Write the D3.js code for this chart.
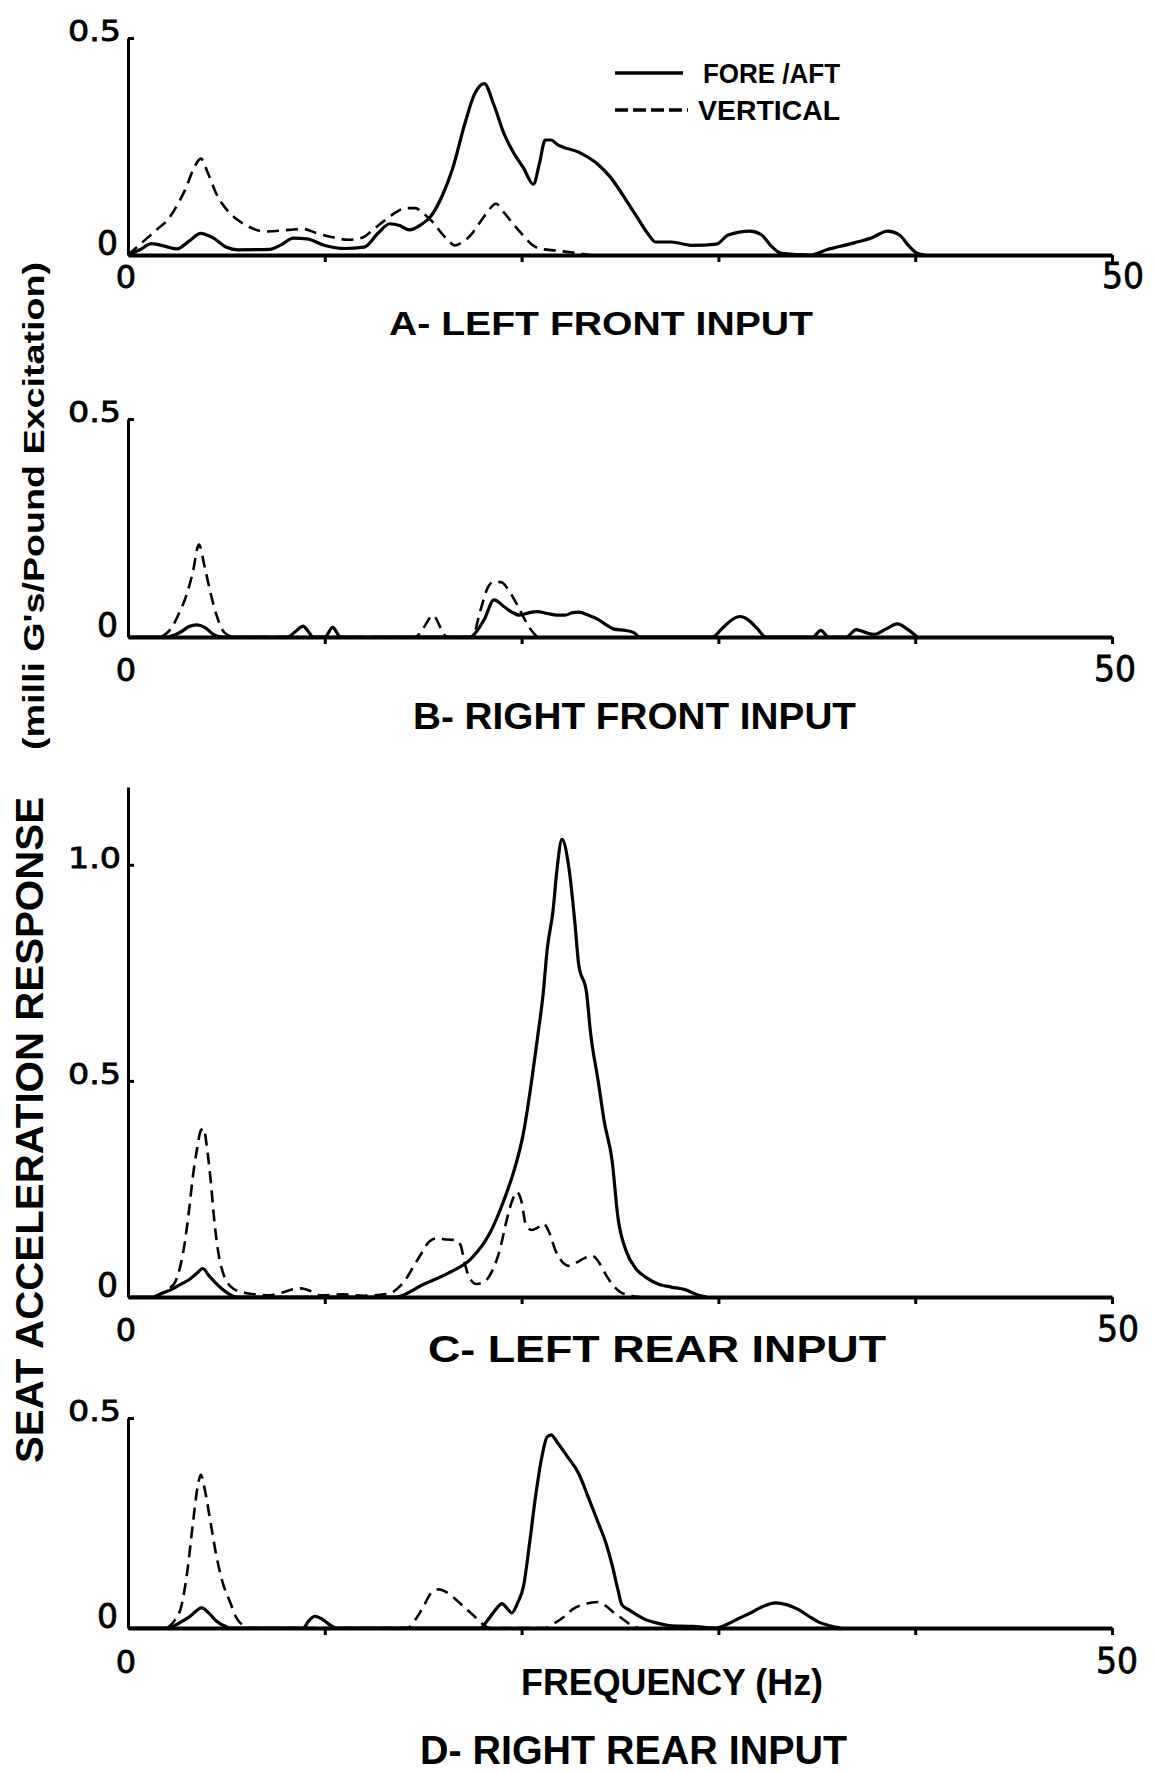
<!DOCTYPE html>
<html>
<head>
<meta charset="utf-8">
<script src="https://cdn.jsdelivr.net/npm/d3@7"></script>
<style>
  body { margin: 0; background: #fff; }
  svg { display: block; }
  text { fill: #000; font-family: "Liberation Sans", "DejaVu Sans Condensed", "Noto Sans", sans-serif; font-weight: bold; }
  .num { font-family: "DejaVu Sans", "Liberation Sans", sans-serif; font-weight: normal; }
</style>
</head>
<body>
<div id="chart"></div>
<script>
// values: [frequency Hz, response]
var aForeAft = [[0,0],[0.6,0.012],[1.2,0.026],[1.9,0.02],[2.5,0.014],[3.1,0.032],[3.7,0.05],[4.3,0.04],[5.0,0.018],[5.6,0.012],[7.2,0.013],[7.8,0.024],[8.4,0.039],[9.1,0.037],[10.0,0.022],[11.0,0.015],[12.0,0.018],[12.7,0.05],[13.3,0.072],[13.8,0.068],[14.3,0.058],[14.9,0.07],[15.4,0.09],[16.0,0.14],[16.5,0.2],[17.1,0.3],[17.6,0.37],[18.1,0.395],[18.6,0.345],[19.1,0.28],[19.6,0.235],[20.1,0.2],[20.6,0.163],[20.9,0.21],[21.2,0.265],[21.5,0.265],[21.8,0.255],[22.9,0.237],[23.9,0.208],[24.5,0.18],[24.9,0.155],[25.4,0.12],[25.9,0.085],[26.4,0.05],[26.8,0.03],[27.6,0.03],[28.7,0.022],[29.9,0.025],[30.5,0.046],[31.6,0.055],[32.2,0.046],[32.7,0.02],[33.2,0.004],[34.7,0],[35.5,0.012],[36.9,0.028],[37.8,0.04],[38.6,0.055],[39.2,0.046],[39.7,0.02],[40.1,0.004],[40.5,0]];
var aVertical = [[0,0],[0.3,0.012],[1.0,0.04],[1.5,0.06],[2.0,0.08],[2.5,0.115],[2.9,0.15],[3.3,0.195],[3.7,0.222],[4.05,0.19],[4.5,0.14],[5.1,0.1],[5.6,0.08],[6.1,0.066],[7.0,0.054],[8.2,0.058],[8.9,0.06],[9.6,0.05],[10.4,0.041],[11.2,0.035],[11.9,0.04],[12.5,0.06],[13.0,0.078],[13.6,0.098],[14.1,0.108],[14.6,0.108],[15.0,0.096],[15.5,0.075],[15.9,0.052],[16.3,0.032],[16.6,0.022],[17.0,0.03],[17.4,0.045],[17.8,0.07],[18.2,0.095],[18.7,0.118],[19.1,0.098],[19.6,0.07],[20.1,0.044],[20.5,0.025],[20.9,0.015],[21.8,0.01],[22.7,0.005],[23.5,0]];

var bForeAft = [[0,0],[2.0,0],[2.7,0.012],[3.1,0.024],[3.5,0.028],[3.9,0.022],[4.4,0.004],[4.8,0],[8.1,0],[8.5,0.012],[8.9,0.025],[9.2,0.01],[9.4,0],[10.0,0],[10.4,0.022],[10.8,0],[17.4,0],[17.7,0.012],[18.1,0.04],[18.6,0.085],[19.1,0.07],[19.5,0.057],[19.9,0.05],[20.4,0.056],[20.8,0.058],[21.3,0.054],[21.8,0.05],[22.2,0.05],[22.6,0.056],[22.9,0.057],[23.4,0.05],[23.9,0.04],[24.3,0.028],[24.7,0.018],[25.3,0.015],[25.7,0.01],[26.0,0],[29.7,0],[30.2,0.02],[30.7,0.04],[31.1,0.047],[31.5,0.04],[32.0,0.018],[32.4,0],[34.8,0],[35.2,0.015],[35.6,0],[36.5,0],[37.0,0.017],[37.5,0.01],[37.9,0.006],[38.5,0.018],[39.1,0.03],[39.6,0.018],[40.1,0]];
var bVertical = [[1.7,0],[2.2,0.02],[2.6,0.055],[3.0,0.1],[3.3,0.15],[3.6,0.212],[3.9,0.16],[4.2,0.1],[4.5,0.05],[4.9,0.01],[5.4,0],[14.6,0],[15.0,0.02],[15.5,0.05],[15.9,0.02],[16.2,0],[17.5,0],[17.9,0.06],[18.3,0.115],[18.6,0.127],[19.0,0.125],[19.3,0.11],[19.7,0.08],[20.1,0.045],[20.5,0.015],[20.8,0]];

var cForeAft = [[0,0],[1.3,0],[1.7,0.008],[2.2,0.017],[2.7,0.03],[3.1,0.04],[3.5,0.055],[3.8,0.066],[4.1,0.05],[4.4,0.035],[4.8,0.018],[5.1,0.008],[5.5,0],[13.6,0],[15.0,0.029],[16.4,0.058],[17.4,0.087],[18.4,0.149],[19.1,0.224],[19.6,0.29],[20.1,0.381],[20.5,0.497],[20.8,0.597],[21.1,0.704],[21.3,0.804],[21.6,0.895],[21.8,0.99],[22.05,1.059],[22.4,0.994],[22.7,0.87],[22.9,0.77],[23.3,0.704],[23.5,0.613],[23.9,0.497],[24.2,0.406],[24.6,0.315],[24.9,0.182],[25.3,0.108],[25.8,0.066],[26.3,0.046],[27.0,0.029],[27.6,0.023],[28.3,0.017],[29.0,0.004],[29.4,0]];
var cVertical = [[1.3,0],[1.7,0.008],[2.1,0.02],[2.4,0.035],[2.7,0.08],[2.9,0.13],[3.1,0.2],[3.3,0.28],[3.5,0.34],[3.7,0.385],[3.85,0.39],[4.0,0.35],[4.2,0.27],[4.4,0.17],[4.6,0.1],[4.8,0.06],[5.1,0.03],[5.4,0.018],[5.9,0.01],[6.5,0.006],[7.2,0.004],[7.8,0.01],[8.4,0.018],[8.8,0.02],[9.2,0.015],[9.8,0.004],[10.9,0.006],[12.0,0.003],[13.3,0.008],[13.7,0.02],[14.1,0.04],[14.5,0.07],[14.9,0.1],[15.3,0.128],[15.7,0.136],[16.2,0.133],[16.6,0.132],[16.9,0.12],[17.1,0.08],[17.3,0.05],[17.7,0.03],[18.1,0.035],[18.5,0.06],[18.9,0.11],[19.2,0.17],[19.5,0.22],[19.75,0.243],[20.0,0.22],[20.2,0.17],[20.5,0.155],[20.8,0.16],[21.1,0.17],[21.4,0.15],[21.7,0.11],[22.0,0.085],[22.4,0.072],[22.8,0.08],[23.2,0.09],[23.6,0.095],[24.0,0.075],[24.3,0.05],[24.6,0.03],[25.0,0.012],[25.5,0.004],[26.0,0]];

var dForeAft = [[0,0],[2.0,0],[2.6,0.012],[3.1,0.026],[3.75,0.048],[4.1,0.036],[4.5,0.016],[5.0,0.003],[5.2,0],[8.9,0],[9.2,0.018],[9.5,0.028],[9.9,0.02],[10.3,0.006],[10.6,0],[17.9,0],[18.3,0.02],[18.7,0.045],[19.0,0.058],[19.3,0.045],[19.5,0.036],[19.8,0.06],[20.1,0.1],[20.4,0.2],[20.7,0.31],[21.0,0.4],[21.3,0.455],[21.5,0.46],[21.8,0.443],[22.3,0.41],[22.9,0.368],[23.4,0.31],[23.9,0.25],[24.3,0.2],[24.6,0.15],[24.9,0.09],[25.1,0.055],[25.5,0.042],[25.9,0.03],[26.3,0.02],[26.7,0.014],[27.5,0.006],[28.7,0.004],[29.9,0],[30.5,0.01],[31.0,0.022],[31.6,0.035],[32.2,0.05],[32.9,0.06],[33.5,0.055],[34.1,0.043],[34.6,0.028],[35.1,0.014],[35.6,0.006],[36.2,0]];
var dVertical = [[2.0,0],[2.4,0.02],[2.7,0.05],[3.0,0.13],[3.3,0.25],[3.55,0.34],[3.7,0.365],[3.9,0.33],[4.2,0.25],[4.5,0.17],[4.8,0.11],[5.2,0.06],[5.5,0.025],[5.9,0.005],[6.1,0],[14.2,0],[14.6,0.02],[15.0,0.05],[15.4,0.083],[15.8,0.092],[16.2,0.085],[16.7,0.066],[17.2,0.045],[17.6,0.028],[18.0,0.01],[18.4,0],[21.2,0],[21.7,0.012],[22.2,0.028],[22.6,0.045],[23.0,0.054],[23.5,0.06],[23.9,0.062],[24.3,0.052],[24.6,0.04],[25.0,0.026],[25.4,0.012],[25.9,0]];

var xTicks = [10, 20, 30, 40, 50];
var xTickLabels = ["0", "50"];
var panelTitles = ["A- LEFT FRONT INPUT", "B- RIGHT FRONT INPUT", "C- LEFT REAR INPUT", "D- RIGHT REAR INPUT"];
var seriesNames = ["FORE /AFT", "VERTICAL"];
var yTitleMain = "SEAT ACCELERATION RESPONSE";
var yTitleUnit = "(milli G's/Pound Excitation)";
var xTitle = "FREQUENCY (Hz)";

var width = 1155, height = 1773;

var svg = d3.select("#chart").append("svg")
    .attr("width", width)
    .attr("height", height);

var x = d3.scaleLinear().domain([0, 50]).range([128, 1112]);

// layout of each panel (pixel positions)
var panels = [
  {fore: aForeAft, vert: aVertical, base: 255, top: 38, vmax: 0.5, yTicks: [0.5], title: panelTitles[0],
   tx: 389, tw: 424, ty: 335, tf: 34, lblDy: 33, x50: 1123},
  {fore: bForeAft, vert: bVertical, base: 637, top: 419, vmax: 0.5, yTicks: [0.5], title: panelTitles[1],
   tx: 413, tw: 443, ty: 729, tf: 37, lblDy: 44, x50: 1115},
  {fore: cForeAft, vert: cVertical, base: 1297, top: 787, vmax: 1.18, yTicks: [0.5, 1.0], title: panelTitles[2],
   tx: 428, tw: 458, ty: 1362, tf: 37, lblDy: 44, x50: 1118},
  {fore: dForeAft, vert: dVertical, base: 1628, top: 1418, vmax: 0.5, yTicks: [0.5], title: panelTitles[3],
   tx: 420, tw: 427, ty: 1764, tf: 40, lblDy: 45, x50: 1117}
];

panels.forEach(function(p) {
  var y = d3.scaleLinear().domain([0, p.vmax]).range([p.base, p.top]);
  var g = svg.append("g");

  var line = d3.line()
      .x(function(d) { return x(d[0]); })
      .y(function(d) { return y(d[1]); })
      .curve(d3.curveMonotoneX);

  g.append("path")
      .datum(p.vert)
      .attr("d", line)
      .attr("fill", "none")
      .attr("stroke", "#000")
      .attr("stroke-width", 2.6)
      .attr("stroke-dasharray", "12,7");

  g.append("path")
      .datum(p.fore)
      .attr("d", line)
      .attr("fill", "none")
      .attr("stroke", "#000")
      .attr("stroke-width", 3.2)
      .attr("stroke-linejoin", "round");

  // x axis
  var xAxis = d3.axisBottom(x).tickValues(xTicks).tickSizeInner(7).tickSizeOuter(0).tickFormat("");
  var xa = g.append("g")
      .attr("transform", "translate(0," + p.base + ")")
      .call(xAxis);
  xa.select(".domain").attr("stroke-width", 4);
  xa.selectAll(".tick line").attr("stroke-width", 3);

  // y axis
  var yAxis = d3.axisRight(y).tickValues(p.yTicks).tickSizeInner(6).tickSizeOuter(0).tickFormat("");
  var ya = g.append("g")
      .attr("transform", "translate(" + x(0) + ",0)")
      .call(yAxis);
  ya.select(".domain").attr("stroke-width", 3);
  ya.selectAll(".tick line").attr("stroke-width", 3);

  p.yTicks.forEach(function(v) {
    g.append("text")
        .attr("class", "num")
        .attr("x", 121)
        .attr("y", y(v) + 3)
        .attr("text-anchor", "end")
        .attr("font-size", 29)
        .attr("textLength", 53)
        .attr("lengthAdjust", "spacingAndGlyphs")
        .style("stroke", "#000").style("stroke-width", 0.8)
        .text(d3.format(".1f")(v));
  });
  g.append("text")
      .attr("class", "num")
      .attr("x", 118)
      .attr("y", y(0))
      .attr("text-anchor", "end")
      .attr("font-size", 33)
      .style("stroke", "#000").style("stroke-width", 0.8)
      .text("0");

  g.append("text")
      .attr("class", "num")
      .attr("x", x(0) - 2)
      .attr("y", p.base + p.lblDy)
      .attr("text-anchor", "middle")
      .attr("font-size", 32)
      .style("stroke", "#000").style("stroke-width", 0.8)
      .text(xTickLabels[0]);
  g.append("text")
      .attr("class", "num")
      .attr("x", p.x50)
      .attr("y", p.base + p.lblDy)
      .attr("text-anchor", "middle")
      .attr("font-size", 36)
      .attr("textLength", 42)
      .attr("lengthAdjust", "spacingAndGlyphs")
      .style("stroke", "#000").style("stroke-width", 0.8)
      .text(xTickLabels[1]);

  g.append("text")
      .attr("x", p.tx)
      .attr("y", p.ty)
      .attr("font-size", p.tf)
      .attr("textLength", p.tw)
      .attr("lengthAdjust", "spacingAndGlyphs")
      .text(p.title);
});

// legend
var legend = svg.append("g");
legend.append("line")
    .attr("x1", 615).attr("x2", 683).attr("y1", 73).attr("y2", 73)
    .attr("stroke", "#000").attr("stroke-width", 3.5);
legend.append("text")
    .attr("x", 703).attr("y", 83)
    .attr("font-size", 28)
    .attr("textLength", 137)
    .attr("lengthAdjust", "spacingAndGlyphs")
    .text(seriesNames[0]);
legend.append("line")
    .attr("x1", 615).attr("x2", 688).attr("y1", 110).attr("y2", 110)
    .attr("stroke", "#000").attr("stroke-width", 3.5)
    .attr("stroke-dasharray", "13,5");
legend.append("text")
    .attr("x", 698).attr("y", 120)
    .attr("font-size", 28)
    .attr("textLength", 142)
    .attr("lengthAdjust", "spacingAndGlyphs")
    .text(seriesNames[1]);

// axis titles
svg.append("text")
    .attr("transform", "translate(43,1463) rotate(-90)")
    .attr("font-size", 38)
    .attr("textLength", 666)
    .attr("lengthAdjust", "spacingAndGlyphs")
    .text(yTitleMain);
svg.append("text")
    .attr("transform", "translate(44,750) rotate(-90)")
    .attr("font-size", 30)
    .attr("textLength", 488)
    .attr("lengthAdjust", "spacingAndGlyphs")
    .text(yTitleUnit);

svg.append("text")
    .attr("x", 521)
    .attr("y", 1695)
    .attr("font-size", 37)
    .attr("textLength", 302)
    .attr("lengthAdjust", "spacingAndGlyphs")
    .text(xTitle);
</script>
</body>
</html>
